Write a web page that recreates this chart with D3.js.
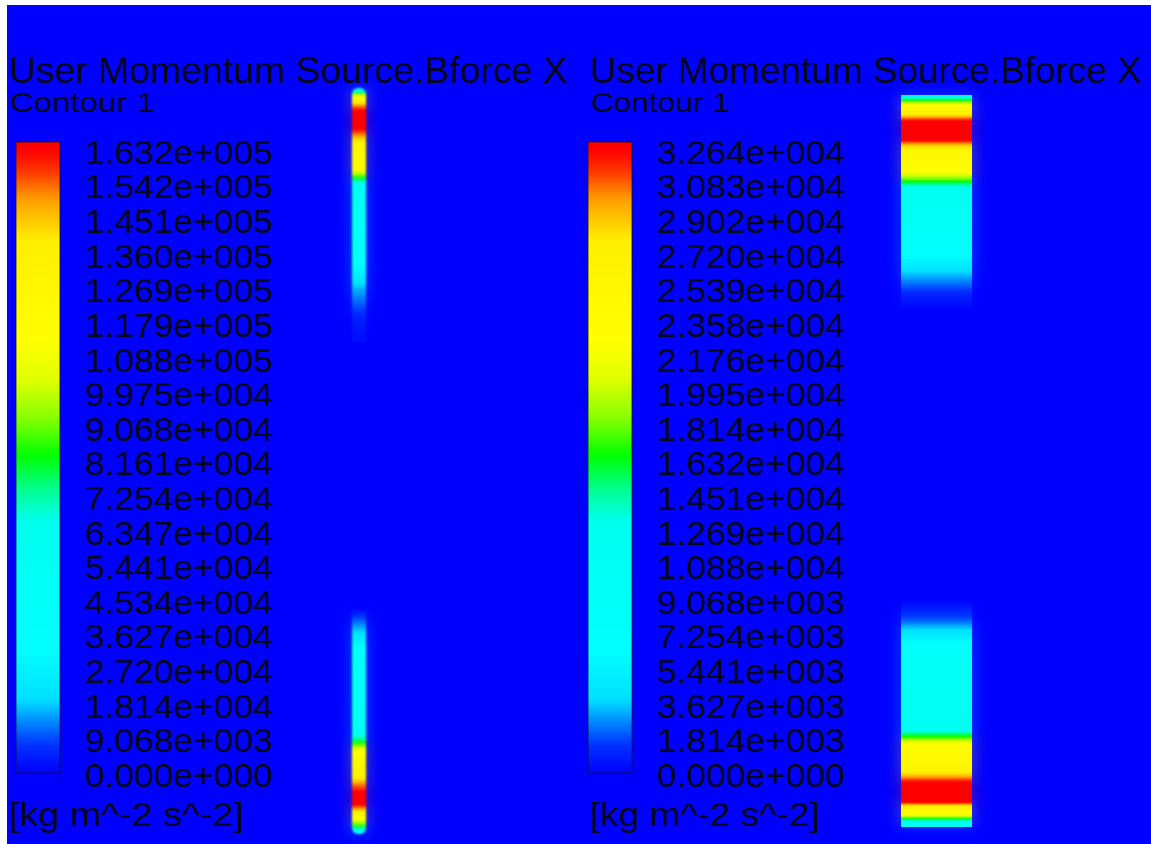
<!DOCTYPE html>
<html>
<head>
<meta charset="utf-8">
<script src="https://cdn.jsdelivr.net/npm/d3@7"></script>
<style>
  body { margin: 0; background: #fff; }
  svg { display: block; }
  text { font-family: "Liberation Sans", Arial, sans-serif; fill: #06061c; }
</style>
</head>
<body>
<svg id="chart" width="1151" height="844"></svg>
<script>
// Text shown on both panels
const titleText = 'User Momentum Source.Bforce X';
const subTitle = 'Contour 1';
const unitText = '[kg m^-2 s^-2]';

// Legend tick labels (top to bottom)
const leftTicks = ['1.632e+005', '1.542e+005', '1.451e+005', '1.360e+005', '1.269e+005', '1.179e+005',
  '1.088e+005', '9.975e+004', '9.068e+004', '8.161e+004', '7.254e+004', '6.347e+004', '5.441e+004',
  '4.534e+004', '3.627e+004', '2.720e+004', '1.814e+004', '9.068e+003', '0.000e+000'];
const rightTicks = ['3.264e+004', '3.083e+004', '2.902e+004', '2.720e+004', '2.539e+004', '2.358e+004',
  '2.176e+004', '1.995e+004', '1.814e+004', '1.632e+004', '1.451e+004', '1.269e+004', '1.088e+004',
  '9.068e+003', '7.254e+003', '5.441e+003', '3.627e+003', '1.814e+003', '0.000e+000'];

const leftMax = 163200;
const rightMax = 32640;

// Rainbow colour map (fraction of range -> colour)
const cmapStops = [0, 0.044, 0.084, 0.116, 0.195, 0.40, 0.449, 0.504, 0.559, 0.623, 0.686, 0.845, 0.908, 0.956, 0.987, 1];
const cmapColors = ['#0000ff', '#0030ff', '#0090ff', '#00e0ff', '#00ffff', '#00ffee', '#00ff90', '#00ff00',
  '#80ff00', '#e0ff00', '#ffff00', '#ffee00', '#ffa000', '#ff3000', '#ff0000', '#ff0000'];

// Source profile along each strip: axial position (0 = top, 1 = bottom) and value
const leftZ = [0, 0.007, 0.013, 0.022, 0.030, 0.054, 0.066, 0.080, 0.107, 0.119, 0.130, 0.188, 0.235, 0.268, 0.308, 0.349,
  0.697, 0.704, 0.740, 0.767, 0.861, 0.879, 0.890, 0.921, 0.933, 0.945, 0.961, 0.975, 0.988, 1];
const leftVal = [49000, 81600, 117500, 145000, 163200, 163200, 145000, 125000, 117500, 84900, 58800, 49000, 32600, 16300, 4900, 0,
  0, 4900, 24500, 45700, 53900, 84900, 114200, 130600, 150000, 163200, 163200, 122400, 84900, 49000];

const rightZ = [0, 0.007, 0.015, 0.027, 0.036, 0.061, 0.068, 0.078, 0.102, 0.117, 0.128, 0.184, 0.212, 0.239, 0.273, 0.294,
  0.690, 0.717, 0.751, 0.772, 0.865, 0.877, 0.888, 0.920, 0.930, 0.940, 0.966, 0.974, 0.982, 0.988, 0.993, 1];
const rightVal = [9800, 16300, 23500, 27700, 32640, 32640, 29000, 24500, 23500, 17000, 11750, 9800, 7200, 3900, 1000, 0,
  0, 1960, 6500, 9800, 11100, 17000, 22800, 25500, 29000, 32640, 32640, 24500, 23500, 17000, 11750, 9800];

const svg = d3.select('#chart');
const W = 1151, H = 844;
const defs = svg.append('defs');

const cmap = d3.scaleLinear().domain(cmapStops).range(cmapColors).interpolate(d3.interpolateRgb).clamp(true);

// background
svg.append('rect').attr('x', 7).attr('y', 5).attr('width', W - 7).attr('height', H - 5).attr('fill', '#0000fe');

const blur = defs.append('filter').attr('id', 'soft').attr('x', '-50%').attr('width', '200%');
blur.append('feGaussianBlur').attr('stdDeviation', 1.1);
const glow = defs.append('filter').attr('id', 'glow').attr('x', '-100%').attr('width', '300%');
glow.append('feGaussianBlur').attr('stdDeviation', 7);

// colour bar gradient
const cbGrad = defs.append('linearGradient').attr('id', 'cbar')
  .attr('x1', 0).attr('y1', 1).attr('x2', 0).attr('y2', 0);
cbGrad.selectAll('stop').data(d3.range(0, 1.0001, 0.01)).join('stop')
  .attr('offset', d => d).attr('stop-color', d => cmap(d));

function stripGradient(id, zs, vals, max) {
  const prof = d3.scaleLinear().domain(zs).range(vals);
  const samples = d3.range(0, 1.0001, 0.002);
  const g = defs.append('linearGradient').attr('id', id)
    .attr('x1', 0).attr('y1', 0).attr('x2', 0).attr('y2', 1);
  g.selectAll('stop').data(samples).join('stop')
    .attr('offset', d => d).attr('stop-color', d => cmap(prof(d) / max));
}
stripGradient('stripL', leftZ, leftVal, leftMax);
stripGradient('stripR', rightZ, rightVal, rightMax);

const panels = [
  { ticks: leftTicks, textX: 9, cbX: 16, labX: 85, grad: 'stripL',
    strip: { x: 352, w: 14, top: 88, bottom: 834, rx: 6, soft: true },
    titleLen: 559, subLen: 145, unitLen: 235 },
  { ticks: rightTicks, textX: 590, cbX: 588, labX: 657, grad: 'stripR',
    strip: { x: 901, w: 71, top: 95, bottom: 827, rx: 0, soft: false },
    titleLen: 552, subLen: 139, unitLen: 230 }
];

const cbTop = 142, cbBottom = 773, cbW = 44;

panels.forEach(p => {
  const g = svg.append('g');

  // strip geometry (drawn first so text stays on top)
  const s = p.strip;
  g.append('rect').attr('x', s.x - 3).attr('y', s.top).attr('width', s.w + 6).attr('height', s.bottom - s.top)
    .attr('fill', `url(#${p.grad})`).attr('opacity', 0.22).attr('filter', 'url(#glow)');
  g.append('rect').attr('x', s.x).attr('y', s.top).attr('width', s.w).attr('height', s.bottom - s.top)
    .attr('rx', s.rx).attr('fill', `url(#${p.grad})`)
    .attr('filter', s.soft ? 'url(#soft)' : null);

  g.append('text').attr('x', p.textX).attr('y', 83)
    .attr('font-size', 36).attr('textLength', p.titleLen).attr('lengthAdjust', 'spacingAndGlyphs')
    .text(titleText);
  g.append('text').attr('x', p.textX + 1).attr('y', 112)
    .attr('font-size', 28).attr('textLength', p.subLen).attr('lengthAdjust', 'spacingAndGlyphs')
    .text(subTitle);

  // colour bar
  g.append('rect').attr('x', p.cbX).attr('y', cbTop).attr('width', cbW).attr('height', cbBottom - cbTop)
    .attr('fill', 'url(#cbar)').attr('stroke', '#101030').attr('stroke-width', 0.8);

  const ly = d3.scalePoint().domain(p.ticks).range([152, 775]);
  g.selectAll('text.tick').data(p.ticks).join('text').attr('class', 'tick')
    .attr('x', p.labX).attr('y', d => ly(d)).attr('dy', '0.36em')
    .attr('font-size', 33).attr('textLength', 188).attr('lengthAdjust', 'spacingAndGlyphs')
    .text(d => d);

  g.append('text').attr('x', p.textX).attr('y', 826)
    .attr('font-size', 33).attr('textLength', p.unitLen).attr('lengthAdjust', 'spacingAndGlyphs')
    .text(unitText);
});
</script>
</body>
</html>
